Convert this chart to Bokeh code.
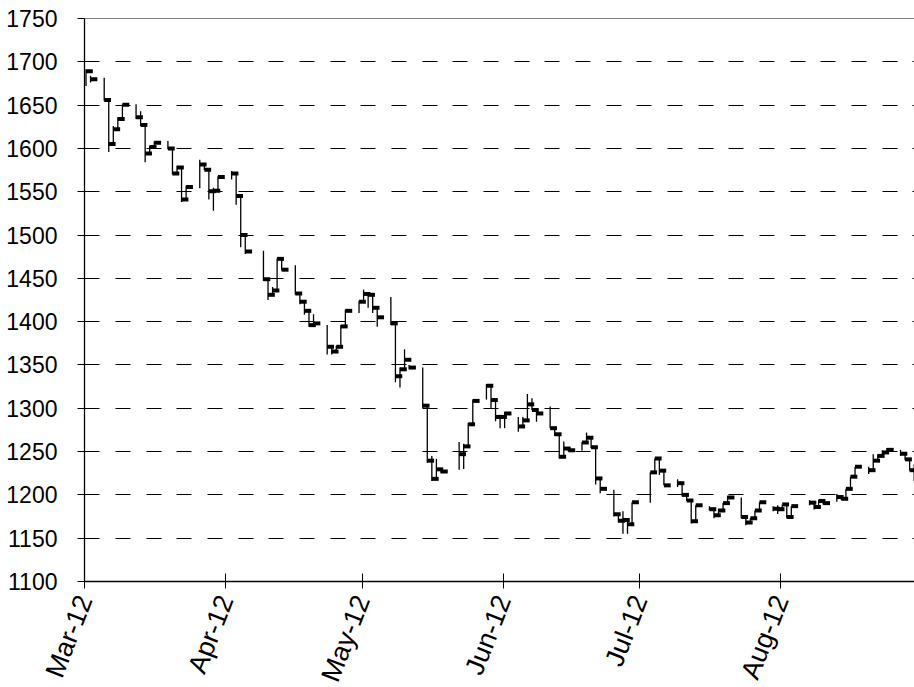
import pandas as pd
from bokeh.plotting import figure
from bokeh.models import Range1d, FixedTicker, Span, ColumnDataSource
from bokeh.embed import file_html
from bokeh.resources import INLINE

# ---- data ----
dates = [
    "2012-03-01", "2012-03-02", "2012-03-05", "2012-03-06", "2012-03-07", "2012-03-08", "2012-03-09",
    "2012-03-12", "2012-03-13", "2012-03-14", "2012-03-15", "2012-03-16", "2012-03-19", "2012-03-20",
    "2012-03-21", "2012-03-22", "2012-03-23", "2012-03-26", "2012-03-27", "2012-03-28", "2012-03-29",
    "2012-03-30",
    "2012-04-02", "2012-04-03", "2012-04-04", "2012-04-05", "2012-04-09", "2012-04-10", "2012-04-11",
    "2012-04-12", "2012-04-13", "2012-04-16", "2012-04-17", "2012-04-18", "2012-04-19", "2012-04-20",
    "2012-04-23", "2012-04-24", "2012-04-25", "2012-04-26", "2012-04-27", "2012-04-30",
    "2012-05-01", "2012-05-02", "2012-05-03", "2012-05-04", "2012-05-07", "2012-05-08", "2012-05-09",
    "2012-05-10", "2012-05-11", "2012-05-14", "2012-05-15", "2012-05-16", "2012-05-17", "2012-05-18",
    "2012-05-22", "2012-05-23", "2012-05-24", "2012-05-25", "2012-05-28", "2012-05-29", "2012-05-30",
    "2012-05-31",
    "2012-06-01", "2012-06-04", "2012-06-05", "2012-06-06", "2012-06-07", "2012-06-08", "2012-06-11",
    "2012-06-12", "2012-06-13", "2012-06-14", "2012-06-15", "2012-06-18", "2012-06-19", "2012-06-20",
    "2012-06-21", "2012-06-22", "2012-06-25", "2012-06-26", "2012-06-27", "2012-06-28", "2012-06-29",
    "2012-07-03", "2012-07-04", "2012-07-05", "2012-07-06", "2012-07-09", "2012-07-10", "2012-07-11",
    "2012-07-12", "2012-07-13", "2012-07-16", "2012-07-17", "2012-07-18", "2012-07-19", "2012-07-20",
    "2012-07-23", "2012-07-24", "2012-07-25", "2012-07-26", "2012-07-27", "2012-07-30", "2012-07-31",
    "2012-08-01", "2012-08-02", "2012-08-03", "2012-08-07", "2012-08-08", "2012-08-09", "2012-08-10",
    "2012-08-13", "2012-08-14", "2012-08-15", "2012-08-16", "2012-08-17", "2012-08-20", "2012-08-21",
    "2012-08-22", "2012-08-23", "2012-08-24", "2012-08-27", "2012-08-28", "2012-08-29", "2012-08-30",
]

highs = [
    1691.5, 1684, 1681.5, 1656, 1626, 1636, 1651, 1651, 1643, 1627, 1603, 1608, 1608.5, 1600, 1580,
    1578, 1557, 1587, 1581, 1576, 1554.5, 1568,
    1574, 1571, 1545, 1500, 1482, 1449, 1440, 1473, 1472, 1465, 1432, 1423, 1412, 1408.5, 1396, 1371,
    1372, 1396, 1414, 1424,
    1437, 1433, 1431, 1416, 1428.5, 1398, 1347, 1368, 1350, 1347, 1303, 1245, 1241.5, 1230, 1261, 1259,
    1283, 1310, 1328, 1326, 1309, 1291,
    1296, 1290, 1290, 1316.5, 1311.5, 1298, 1302, 1277, 1270, 1261.5, 1253.5, 1261, 1272, 1266, 1255,
    1219, 1206, 1178, 1181, 1171, 1191.5,
    1226, 1242, 1242, 1228, 1218, 1213.5, 1200, 1193.5, 1188, 1187, 1183.5, 1184, 1190.5, 1199, 1197,
    1174.5, 1173, 1182, 1191.5, 1187, 1188,
    1189, 1189, 1187, 1194, 1191, 1194.5, 1193, 1201, 1199, 1207, 1221, 1232.5, 1232.5, 1247, 1247,
    1251.5, 1254, 1252, 1248, 1241, 1235,
]

lows = [
    1672, 1676, 1655, 1596, 1605, 1621, 1634, 1634, 1626, 1584, 1594, 1600, 1599, 1570, 1570, 1538,
    1541, 1554, 1575, 1541, 1528, 1551,
    1564, 1535, 1486, 1478, 1447, 1425, 1430, 1436, 1459, 1431, 1420, 1408, 1394, 1396, 1362, 1362,
    1365, 1371, 1394, 1410,
    1423, 1416, 1410, 1394, 1396, 1330, 1324, 1345, 1345, 1300, 1237, 1216, 1218, 1225, 1229, 1230,
    1256, 1282, 1310, 1300, 1285, 1277,
    1277, 1273, 1279, 1286, 1298, 1284.5, 1277, 1268, 1242, 1244, 1250, 1251, 1260.5, 1254, 1212,
    1202, 1175, 1168, 1155, 1155, 1166,
    1191, 1226, 1223, 1211, 1209, 1198, 1193, 1167, 1169.5, 1182, 1173, 1176, 1182, 1190.5, 1173,
    1165, 1168, 1173, 1182, 1181, 1178,
    1183.5, 1173, 1174.5, 1188, 1183, 1186, 1189, 1192, 1194, 1195.5, 1207, 1221, 1224, 1228.5,
    1239.5, 1245, 1249, 1245, 1240, 1228, 1216,
]

closes = [
    1689, 1680, 1656, 1605, 1622, 1634, 1650.5, 1636, 1627, 1594, 1601.5, 1606.5, 1600, 1571, 1578,
    1541, 1555.5, 1581.5, 1575.5, 1550.5, 1551, 1567,
    1571, 1545, 1500, 1481, 1449, 1431, 1436, 1472.5, 1460, 1432.5, 1423, 1412.5, 1396, 1398, 1371,
    1365.5, 1371, 1394.5, 1412.5, 1423,
    1432, 1431, 1416, 1405, 1398, 1337, 1345, 1356, 1347, 1303, 1239.5, 1218.5, 1229.5, 1227, 1247,
    1256, 1281.5, 1308.5, 1326, 1309.5, 1290, 1290,
    1294, 1279, 1286, 1304.5, 1298, 1294, 1277, 1270, 1244, 1253.5, 1251.5, 1260.5, 1266, 1255, 1219,
    1207, 1177.5, 1170, 1171, 1166, 1191.5,
    1226, 1242, 1228, 1211, 1213.5, 1200, 1193.5, 1169.5, 1188, 1183.5, 1176.5, 1182, 1190.5, 1197,
    1174.5, 1168, 1173, 1182, 1191.5, 1184, 1183.5,
    1189, 1174.5, 1187, 1191, 1186, 1193, 1190.5, 1197.5, 1195.5, 1207, 1221, 1232.5, 1228.5, 1239.5,
    1245, 1249, 1252, 1247.5, 1241, 1228.5, 1220,
]

month_starts = ["2012-03-01", "2012-04-01", "2012-05-01", "2012-06-01", "2012-07-01", "2012-08-01"]
month_labels = ["Mar-12", "Apr-12", "May-12", "Jun-12", "Jul-12", "Aug-12"]
y_ticks = [1100, 1150, 1200, 1250, 1300, 1350, 1400, 1450, 1500, 1550, 1600, 1650, 1700, 1750]

# ---- derived positions (days since the first month start) ----
origin = pd.Timestamp(month_starts[0])
day = [(pd.Timestamp(d) - origin).days + 0.33 for d in dates]
tick_days = [(pd.Timestamp(m) - origin).days for m in month_starts]

src = ColumnDataSource(dict(x=day, xm=[d + 0.75 for d in day], high=highs, low=lows, close=closes))

FONT = "'Liberation Sans', Arial, sans-serif"

p = figure(
    frame_width=830, frame_height=563,
    x_range=Range1d(0, 182.4), y_range=Range1d(1100, 1750),
    output_backend="svg", toolbar_location=None,
    min_border_left=84, min_border_top=18, min_border_right=0, min_border_bottom=20,
    background_fill_color="white", border_fill_color="white",
)
p.outline_line_color = None

# high-low lines and close markers
p.segment(x0="x", y0="low", x1="x", y1="high", source=src, line_color="black", line_width=1.3)
p.rect(x="xm", y="close", width=1.5, height=4, height_units="screen", source=src,
       fill_color="black", line_color=None)

# grid
p.xgrid.grid_line_color = None
p.ygrid.grid_line_color = "black"
p.ygrid.grid_line_width = 1
p.ygrid.grid_line_dash = "15 16 15 16 15 15"
p.ygrid.ticker = FixedTicker(ticks=y_ticks)
p.add_layout(Span(location=1750, dimension="width", line_color="black", line_width=1))

# y axis
p.yaxis.ticker = FixedTicker(ticks=y_ticks)
p.yaxis.major_tick_out = 7
p.yaxis.major_tick_in = 0
p.yaxis.minor_tick_line_color = None
p.yaxis.major_label_standoff = 20
p.yaxis.major_label_text_font = FONT
p.yaxis.major_label_text_font_size = "23px"
p.yaxis.major_label_text_color = "black"
p.yaxis.axis_line_color = "black"
p.yaxis.axis_line_width = 1.3
p.yaxis.major_tick_line_color = "black"

# x axis
p.xaxis.ticker = FixedTicker(ticks=tick_days)
p.xaxis.major_label_overrides = {t: lab for t, lab in zip(tick_days, month_labels)}
p.xaxis.major_label_orientation = 1.2
p.xaxis.major_tick_out = 7
p.xaxis.major_tick_in = 8
p.xaxis.minor_tick_line_color = None
p.xaxis.major_label_standoff = 8
p.xaxis.major_label_text_font = FONT
p.xaxis.major_label_text_font_size = "27px"
p.xaxis.major_label_text_color = "black"
p.xaxis.axis_line_color = "black"
p.xaxis.axis_line_width = 1.3
p.xaxis.major_tick_line_color = "black"

open("out.html", "w").write(file_html(p, INLINE))
